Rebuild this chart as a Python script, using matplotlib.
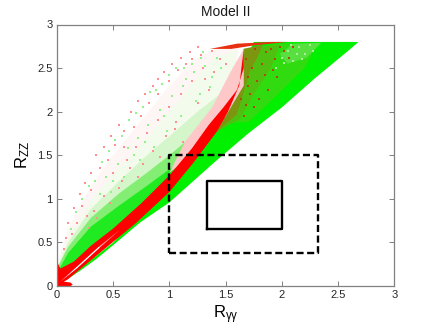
import matplotlib
matplotlib.use("Agg")
import matplotlib.pyplot as plt

plt.rcParams['font.family'] = ['Liberation Sans', 'DejaVu Sans']
plt.rcParams['mathtext.fontset'] = 'custom'
plt.rcParams['mathtext.rm'] = 'Liberation Sans'
plt.rcParams['mathtext.it'] = 'Liberation Sans'

# lower right edge of the whole scatter
edge_x = [0, 0.2, 0.35, 0.5, 0.74, 1.0, 1.4, 1.7, 2.0, 2.29, 2.59, 2.68]
edge_y = [0, 0.17, 0.31, 0.47, 0.73, 0.96, 1.42, 1.75, 2.05, 2.38, 2.7, 2.8]
top_x = [1.75, 1.3, 0.5, 0]
top_y = [2.8, 1.6, 0.5, 0]

# density zones above the band: upper edges, each closed along the band
close_x = [1.5, 1.2, 0.9, 0.5, 0]
close_y = [1.95, 1.5, 1.05, 0.55, 0]
zone1_x = [0, 0.1, 0.25, 0.45, 0.7, 0.95, 1.2, 1.4, 1.62]
zone1_y = [0.25, 0.66, 1.03, 1.42, 1.82, 2.22, 2.58, 2.72, 2.74]
zone2_x = [0, 0.1, 0.3, 0.55, 0.8, 1.05, 1.25, 1.4, 1.6]
zone2_y = [0.22, 0.55, 0.98, 1.36, 1.7, 2.08, 2.4, 2.62, 2.7]
zone3_x = [0, 0.1, 0.3, 0.55, 0.8, 1.0, 1.25, 1.45]
zone3_y = [0.2, 0.5, 0.88, 1.2, 1.5, 1.72, 2.0, 2.2]
zone4_x = [0, 0.1, 0.3, 0.55, 0.8, 1.0, 1.2]
zone4_y = [0.2, 0.45, 0.78, 1.06, 1.3, 1.5, 1.72]
zone5_x = [0, 0.1, 0.3, 0.55, 0.8, 1.0]
zone5_y = [0.15, 0.38, 0.68, 0.92, 1.15, 1.34]

# pink fringe on the upper side of the band
fringe_x = [1.0, 1.14, 1.38, 1.54, 1.66, 1.66, 1.5, 1.2]
fringe_y = [1.3, 1.66, 2.05, 2.45, 2.72, 2.3, 1.95, 1.5]

# red band
band_x = [0, 0, 0.03, 0.15, 0.3, 0.5, 0.75, 1.0, 1.2, 1.35, 1.48, 1.6, 1.66, 1.66, 1.62, 1.52, 1.42, 1.21, 1.0, 0.7, 0.38, 0.1, 0]
band_y = [0, 0.28, 0.2, 0.28, 0.46, 0.66, 0.95, 1.27, 1.58, 1.85, 2.05, 2.25, 2.5, 2.72, 2.3, 2.0, 1.77, 1.41, 1.08, 0.72, 0.38, 0.08, 0]
base_x = [0, 0.12, 0.14, 0.12, 0]
base_y = [0, 0, 0.015, 0.04, 0.06]
rim_x = [1.36, 1.6, 1.9, 2.05, 1.75, 1.55]
rim_y = [2.72, 2.78, 2.8, 2.8, 2.76, 2.72]

# white sliver inside the band
gap_x = [0.03, 0.18, 0.38, 0.38, 0.18]
gap_y = [0.05, 0.225, 0.46, 0.44, 0.205]
gap2_x = [0.38, 0.56, 0.38]
gap2_y = [0.46, 0.645, 0.44]

# mix of red and green right of the band
mix1_x = [1.5, 1.66, 1.95, 2.32, 2.2, 1.9, 1.7]
mix1_y = [1.87, 2.7, 2.78, 2.79, 2.5, 2.12, 1.88]
mix2_x = [1.42, 1.6, 1.66, 1.98, 1.9, 1.75, 1.63]
mix2_y = [1.77, 2.25, 2.72, 2.77, 2.5, 2.2, 1.92]
mix3_x = [1.42, 1.6, 1.66, 1.83, 1.78, 1.72, 1.6]
mix3_y = [1.77, 2.25, 2.72, 2.77, 2.62, 2.48, 1.97]
patch_x = [1.98, 2.1, 2.35, 2.22, 2.05]
patch_y = [2.66, 2.78, 2.79, 2.62, 2.55]

# single sparse points readable in the thin zone
pink_x = [0.35, 0.42, 0.48, 0.55, 0.6, 0.66, 0.72, 0.78, 0.85, 0.9, 0.95, 1.02, 1.1, 1.18, 1.25, 0.3, 0.25, 0.2, 0.15, 0.1,
          0.22, 0.3, 0.38, 0.45, 0.52, 0.6, 0.68, 0.75, 0.82, 0.9, 1.0, 1.08, 1.15, 1.2, 0.5, 0.62, 0.7, 0.8, 0.9, 1.0,
          1.1, 1.2, 1.3, 1.4, 1.45, 1.35, 0.97, 1.06, 0.76, 0.58, 0.42, 0.33, 0.18, 0.27, 0.13,
          0.65, 0.85, 1.05, 1.25, 1.28, 1.38, 1.5, 0.55, 0.72, 0.92, 1.12, 0.47, 0.36, 0.28, 0.08, 0.06, 1.32, 1.42, 1.52]
pink_y = [1.5, 1.6, 1.72, 1.85, 1.78, 2.0, 2.12, 2.2, 2.3, 2.38, 2.45, 2.55, 2.62, 2.68, 2.74, 1.3, 1.18, 1.05, 0.9, 0.72,
          0.92, 1.1, 1.35, 1.45, 1.62, 1.6, 1.82, 1.95, 2.1, 2.2, 2.35, 2.48, 2.55, 2.6, 1.3, 1.45, 1.6, 1.75, 1.9, 2.05,
          2.2, 2.35, 2.5, 2.45, 2.6, 2.25, 1.72, 1.88, 1.4, 1.2, 1.03, 0.86, 0.72, 0.8, 0.6,
          1.35, 1.55, 1.8, 2.1, 2.65, 2.7, 2.55, 1.12, 1.25, 1.48, 1.65, 0.95, 0.78, 0.66, 0.55, 0.42, 2.38, 2.12, 2.3]
lime_x = [0.4, 0.46, 0.52, 0.58, 0.64, 0.7, 0.76, 0.83, 0.88, 0.93, 1.0, 1.06, 1.13, 1.2, 1.28, 0.28, 0.22, 0.17, 0.12, 0.34,
          0.44, 0.54, 0.63, 0.72, 0.81, 0.92, 1.02, 1.12, 1.22, 1.32, 1.42, 0.48, 0.6, 0.74, 0.86, 0.98, 1.1, 1.24, 1.36,
          1.3, 1.38, 1.46, 1.15, 1.27, 0.95, 0.78, 0.68, 0.5, 0.38]
lime_y = [1.42, 1.55, 1.68, 1.72, 1.9, 1.98, 2.05, 2.22, 2.25, 2.32, 2.42, 2.5, 2.5, 2.55, 2.62, 1.15, 1.0, 0.85, 0.65, 1.2,
          1.25, 1.4, 1.58, 1.7, 1.85, 2.02, 2.18, 2.3, 2.45, 2.52, 2.62, 1.08, 1.25, 1.45, 1.6, 1.78, 1.95, 2.12, 2.28,
          2.68, 2.4, 2.5, 2.38, 2.2, 1.95, 1.65, 1.5, 1.2, 1.05]
red_dot_x = [1.68, 1.7, 1.73, 1.76, 1.72, 1.78, 1.82, 1.86, 1.9, 1.94, 1.98, 2.02, 1.8, 1.85, 1.92, 1.75, 1.68, 1.66, 1.88, 1.96, 2.06, 2.1, 1.7, 1.64]
red_dot_y = [2.6, 2.4, 2.5, 2.72, 2.2, 2.35, 2.55, 2.68, 2.72, 2.6, 2.74, 2.7, 2.15, 2.42, 2.48, 2.05, 2.08, 1.95, 2.25, 2.4, 2.62, 2.74, 2.3, 2.15]
pale_dot_x = [2.0, 2.05, 2.1, 2.15, 2.2, 2.25, 2.08, 2.13, 2.18, 2.28, 1.95, 2.02]
pale_dot_y = [2.62, 2.7, 2.58, 2.74, 2.66, 2.76, 2.76, 2.66, 2.6, 2.7, 2.5, 2.56]

# boxes
dash_x = [1.0, 2.32, 2.32, 1.0, 1.0]
dash_y = [0.38, 0.38, 1.5, 1.5, 0.38]
solid_x = [1.33, 2.0, 2.0, 1.33, 1.33]
solid_y = [0.65, 0.65, 1.2, 1.2, 0.65]

ticks = [0, 0.5, 1, 1.5, 2, 2.5, 3]
tick_labels = ['0', '0.5', '1', '1.5', '2', '2.5', '3']

fig = plt.figure(figsize=(4.35, 3.27), dpi=100)
ax = fig.add_axes([57/435, 1 - 286/327, 337.5/435, 261.5/327])

ax.fill(edge_x + top_x, edge_y + top_y, color='#00f000', lw=0)
ax.fill(zone1_x + close_x, zone1_y + close_y, color='#fef6f4', lw=0)
ax.fill(zone2_x + close_x, zone2_y + close_y, color='#f2fbec', lw=0)
ax.fill(zone3_x + close_x, zone3_y + close_y, color='#d4f6ca', lw=0)
ax.fill(zone4_x + close_x[1:], zone4_y + close_y[1:], color='#84ee74', lw=0)
ax.fill(zone5_x + close_x[1:], zone5_y + close_y[1:], color='#20ea20', lw=0)
ax.scatter(pink_x, pink_y, s=1.6, marker='s', color='#ff9090', lw=0)
ax.scatter(lime_x, lime_y, s=1.6, marker='s', color='#90f488', lw=0)
ax.fill(mix1_x, mix1_y, color='#30dc10', lw=0)
ax.fill(mix2_x, mix2_y, color='#50c010', lw=0)
ax.fill(mix3_x, mix3_y, color='#7c9610', lw=0)
ax.fill(patch_x, patch_y, color='#58e040', lw=0)
ax.scatter(red_dot_x, red_dot_y, s=1.6, marker='s', color='#b04808', lw=0)
ax.scatter(pale_dot_x, pale_dot_y, s=1.6, marker='s', color='#a8f098', lw=0)
ax.fill(fringe_x, fringe_y, color='#ffc8c8', lw=0)
ax.fill(rim_x, rim_y, color='#e83010', lw=0)
ax.fill(band_x, band_y, color='#ff0000', lw=0)
ax.fill(base_x, base_y, color='#ff0000', lw=0)
ax.fill(gap_x, gap_y, color='#ffffff', lw=0)
ax.fill(gap2_x, gap2_y, color='#ffa0a0', lw=0)

ax.plot(dash_x, dash_y, color='k', lw=1.7, ls=(0, (3, 1.5)))
ax.plot(solid_x, solid_y, color='k', lw=1.7)

ax.set_xlim(0, 3)
ax.set_ylim(0, 3)
ax.set_xticks(ticks)
ax.set_xticklabels(tick_labels)
ax.set_yticks(ticks)
ax.set_yticklabels(tick_labels)
ax.tick_params(direction='in', top=True, right=True, length=3.5, width=0.7, color='#808080', labelcolor='#262626', labelsize=8, pad=3)
for s in ax.spines.values():
    s.set_color('#808080')
    s.set_linewidth(0.9)

ax.set_title('Model II', fontsize=10, pad=6, color='#1a1a1a')
ax.set_xlabel('R$_{\\mathrm{γγ}}$', fontsize=12, labelpad=2)
ax.set_ylabel('R$_{\\mathrm{ZZ}}$', fontsize=12, labelpad=4)

fig.savefig('out.png', dpi=100)
